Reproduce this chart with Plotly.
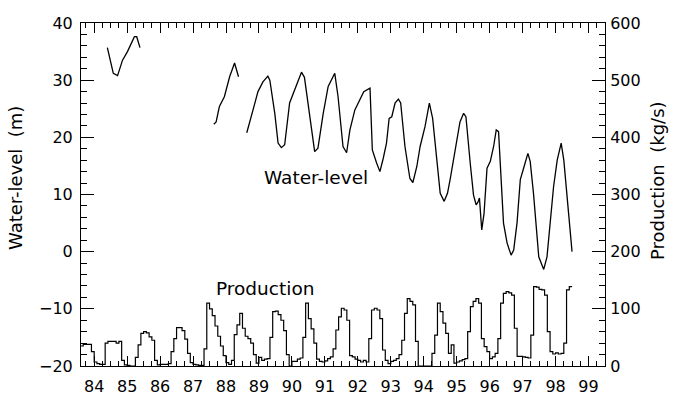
import plotly.graph_objects as go

# ---------------- data ----------------
years = list(range(84, 100))
year_labels = [str(y) for y in years]

# Water-level (m): three measured segments (time in decimal years, 19xx)
wl_seg1_t = [84.40, 84.50, 84.58, 84.71, 84.86, 85.01, 85.10, 85.22, 85.29, 85.39]
wl_seg1_v = [35.7, 33.0, 31.2, 30.8, 33.5, 35.0, 36.0, 37.6, 37.6, 35.7]

wl_seg2_t = [87.63, 87.70, 87.80, 87.95, 88.11, 88.26, 88.38]
wl_seg2_v = [22.3, 22.7, 25.4, 27.1, 30.6, 33.0, 30.6]

wl_seg3_t = [88.63, 88.72, 88.82, 88.97, 89.12, 89.27, 89.33, 89.48, 89.58, 89.68,
             89.78, 89.93, 90.08, 90.29, 90.38, 90.54, 90.69, 90.79, 90.95, 91.10,
             91.30, 91.40, 91.55, 91.66, 91.76, 91.91, 92.06, 92.18, 92.37, 92.44,
             92.57, 92.67, 92.77, 92.87, 92.95, 93.03, 93.13, 93.23, 93.30, 93.43,
             93.58, 93.67, 93.79, 93.89, 94.04, 94.17, 94.27, 94.40, 94.50, 94.62,
             94.72, 94.80, 94.95, 95.10, 95.21, 95.28, 95.41, 95.51, 95.59, 95.64,
             95.69, 95.76, 95.83, 95.92, 96.02, 96.12, 96.20, 96.27, 96.42, 96.53,
             96.65, 96.73, 96.83, 96.93, 97.03, 97.16, 97.23, 97.33, 97.49, 97.64,
             97.74, 97.84, 97.94, 98.05, 98.17, 98.25, 98.35, 98.50]
wl_seg3_v = [20.8, 22.5, 24.8, 28.0, 29.7, 30.7, 30.0, 24.2, 19.0, 18.2,
             18.7, 26.0, 28.3, 31.4, 30.5, 23.6, 17.5, 18.1, 24.2, 28.9,
             31.2, 27.1, 18.4, 17.3, 21.3, 24.8, 26.5, 28.0, 28.6, 17.8,
             15.5, 14.0, 16.3, 19.0, 23.3, 23.6, 26.0, 26.7, 26.0, 18.4,
             12.8, 12.1, 14.9, 18.4, 21.9, 26.0, 23.3, 16.0, 10.2, 8.8,
             10.2, 12.6, 17.8, 22.7, 24.2, 23.6, 15.5, 9.9, 8.2, 8.6,
             9.4, 3.8, 6.7, 14.6, 15.8, 18.4, 21.3, 21.0, 5.0, 1.5,
             -0.6, 0.3, 5.0, 12.6, 14.6, 17.2, 15.8, 10.2, -0.9, -3.1,
             -0.9, 5.6, 11.4, 16.0, 19.0, 16.0, 9.1, 0.0]

# Production (kg/s): monthly values starting Aug 1983 (83 + 7/12)
prod_start = 83.0 + 7 / 12
prod_monthly = [
    35, 38, 38, 38, 25, 7, 4, 3, 3, 40, 43, 43,          # 83.6-84.6
    43, 40, 43, 10, 2, 1, 0, 0, 15, 37, 57, 60,          # 84.6-85.6
    58, 51, 45, 10, 2, 3, 3, 3, 4, 25, 48, 67,           # 85.6-86.6
    67, 62, 47, 22, 6, 3, 2, 1, 1, 30, 110, 100,         # 86.6-87.6
    88, 70, 52, 35, 18, 6, 3, 10, 55, 72, 92, 66,        # 87.6-88.6
    52, 48, 40, 20, 5, 15, 10, 12, 13, 50, 95, 96,       # 88.6-89.6
    90, 80, 62, 20, 0, 8, 8, 12, 14, 50, 110, 83,        # 89.6-90.6
    65, 40, 12, 8, 7, 9, 13, 16, 30, 63, 86, 101,        # 90.6-91.6
    98, 80, 18, 16, 12, 10, 7, 10, 7, 48, 98, 101,       # 91.6-92.6
    98, 83, 28, 10, 4, 8, 10, 13, 20, 45, 92, 118,       # 92.6-93.6
    113, 107, 43, 0, 0, 0, 0, 0, 22, 54, 110, 95,        # 93.6-94.6
    75, 57, 22, 37, 5, 7, 9, 11, 13, 60, 104, 113,       # 94.6-95.6
    118, 110, 48, 34, 25, 13, 16, 22, 48, 110, 127, 130, # 95.6-96.6
    128, 124, 66, 17, 17, 16, 15, 14, 54, 139, 138, 134, # 96.6-97.6
    133, 124, 60, 25, 21, 23, 21, 22, 40, 133, 139,      # 97.6-98.5
]

X_RANGE = [83.6, 99.5]
WL_RANGE = [-20, 40]
PROD_RANGE = [0, 600]

# ---------------- build traces ----------------
wl_t = wl_seg1_t + [None] + wl_seg2_t + [None] + wl_seg3_t
wl_v = wl_seg1_v + [None] + wl_seg2_v + [None] + wl_seg3_v

prod_t = [prod_start + i / 12 for i in range(len(prod_monthly) + 1)]
prod_v = prod_monthly + [prod_monthly[-1]]

FONT = "DejaVu Sans"
fig = go.Figure()
fig.add_trace(go.Scatter(x=wl_t, y=wl_v, mode="lines", connectgaps=False,
                         line=dict(color="black", width=1.3), yaxis="y",
                         showlegend=False, hoverinfo="skip"))
fig.add_trace(go.Scatter(x=prod_t, y=prod_v, mode="lines", line_shape="hv",
                         line=dict(color="black", width=1.2), yaxis="y2",
                         showlegend=False, hoverinfo="skip"))

common = dict(showgrid=False, zeroline=False, tickcolor="black", tickwidth=1,
              showline=True, linecolor="black", linewidth=1)

fig.update_layout(
    width=674, height=407,
    margin=dict(l=81, r=69, t=23, b=41),
    paper_bgcolor="white", plot_bgcolor="white",
    font=dict(family=FONT, size=16, color="black"),
    xaxis=dict(range=X_RANGE, tickmode="array", tickvals=years, ticktext=year_labels,
               ticks="inside", ticklen=10, mirror="ticks", ticklabelstandoff=6,
               minor=dict(tickmode="linear", tick0=84, dtick=0.25, ticks="inside",
                          ticklen=5, tickcolor="black", tickwidth=1, showgrid=False),
               **common),
    yaxis=dict(range=WL_RANGE, tickmode="linear", tick0=-20, dtick=10,
               ticks="inside", ticklen=13, ticklabelstandoff=4,
               minor=dict(tickmode="linear", tick0=-20, dtick=2, ticks="inside",
                          ticklen=6, tickcolor="black", tickwidth=1, showgrid=False),
               **common),
    yaxis2=dict(range=PROD_RANGE, tickmode="linear", tick0=0, dtick=100,
                overlaying="y", side="right", anchor="x",
                ticks="inside", ticklen=13, ticklabelstandoff=1,
                minor=dict(tickmode="linear", tick0=0, dtick=20, ticks="inside",
                           ticklen=6, tickcolor="black", tickwidth=1, showgrid=False),
                **common),
    annotations=[
        dict(text="Water-level", x=90.72, y=12.9, xref="x", yref="y",
             showarrow=False, font=dict(size=18.5)),
        dict(text="Production", x=89.17, y=-6.5, xref="x", yref="y",
             showarrow=False, font=dict(size=18.5)),
        dict(text="Water-level  (m)", x=15, y=178, xref="paper", yref="paper",
             xanchor="center", yanchor="middle",
             showarrow=False, textangle=-90, font=dict(size=18)),
        dict(text="Production  (kg/s)", x=657, y=181, xref="paper", yref="paper",
             xanchor="center", yanchor="middle",
             showarrow=False, textangle=-90, font=dict(size=18)),
    ],
)

# convert pixel positions of axis-title annotations to paper fractions
pw, ph = 674 - 81 - 69, 407 - 23 - 41
for a in fig.layout.annotations[2:]:
    a.x = (a.x - 81) / pw
    a.y = (407 - 41 - a.y) / ph

fig.write_html("out.html")
